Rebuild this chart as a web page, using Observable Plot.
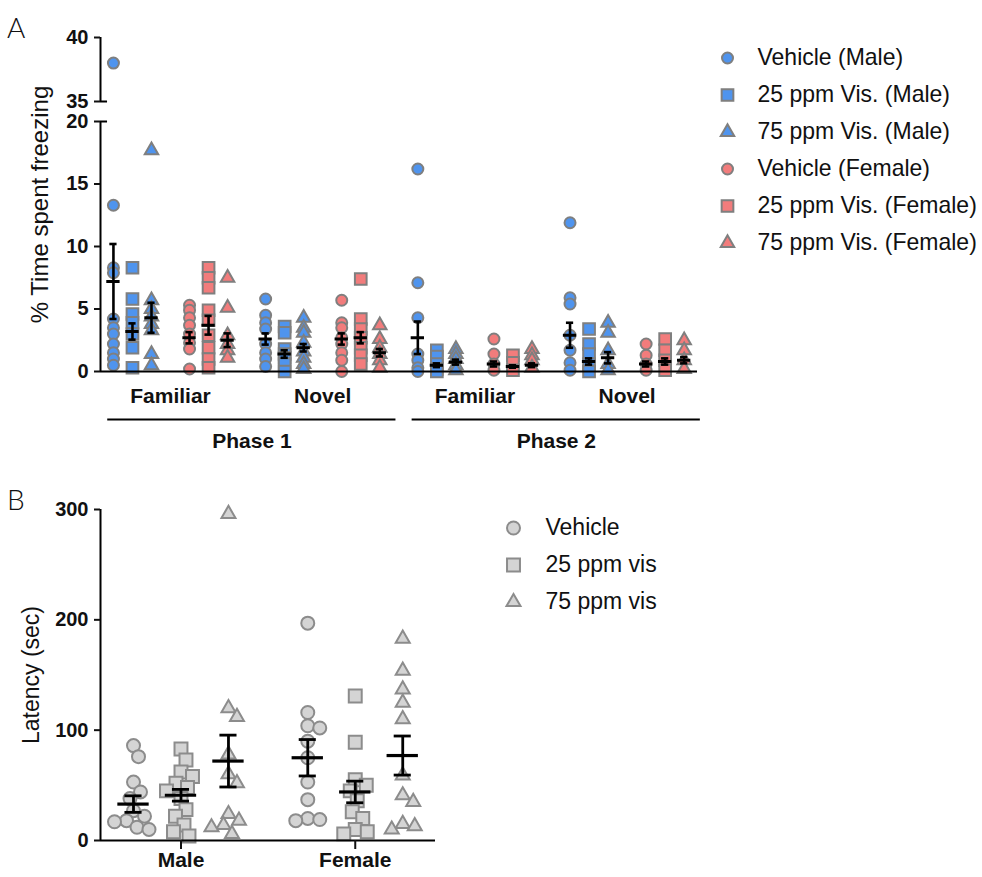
<!DOCTYPE html>
<html><head><meta charset="utf-8">
<script src="https://cdn.jsdelivr.net/npm/d3@7"></script>
<script src="https://cdn.jsdelivr.net/npm/@observablehq/plot@0.6"></script>
<style>
body{margin:0;background:#fff;font-family:"Liberation Sans",Arial,sans-serif;}
#page{position:relative;width:982px;height:877px;overflow:hidden;background:#fff;}
.abs{position:absolute;}
.letter{font-family:Lato,"DejaVu Sans",sans-serif;font-weight:300;font-size:28px;line-height:28px;color:#111;}
</style></head><body>
<div id="page">
 <div class="abs letter" style="left:7px;top:13px">A</div>
 <div class="abs letter" style="left:7px;top:485px">B</div>
 <div id="a" class="abs" style="left:0;top:0"></div>
 <div id="alegend" class="abs" style="left:700px;top:38px"></div>
 <div id="b" class="abs" style="left:0;top:460px"></div>
 <div id="blegend" class="abs" style="left:490px;top:508px"></div>
</div>
<script>
// ---------------- Panel A data: % time spent freezing ----------------
const phases = ["Phase 1", "Phase 2"];
const contexts = ["Familiar", "Novel"];
const groupsA = ["Vehicle (Male)", "25 ppm Vis. (Male)", "75 ppm Vis. (Male)",
                 "Vehicle (Female)", "25 ppm Vis. (Female)", "75 ppm Vis. (Female)"];
const yTicksA = [0, 5, 10, 15, 20, 35, 40];
const yBreakA = [20, 35];   // axis break between these values

// each cluster: [VehM, 25M, 75M, VehF, 25F, 75F]
const p1FamiliarPts = [
  [38.0, 13.3, 8.3, 7.9, 4.2, 3.5, 3.0, 2.2, 1.5, 1.0, 0.5],
  [8.3, 5.8, 4.6, 3.9, 3.0, 1.9, 0.3],
  [17.7, 5.7, 5.0, 4.4, 3.8, 3.3, 1.4, 0.5],
  [5.3, 4.9, 4.3, 3.7, 3.0, 2.3, 1.8, 0.2],
  [8.3, 7.5, 6.7, 4.9, 4.1, 2.9, 1.9, 1.0, 0.3],
  [7.5, 5.1, 2.9, 2.2, 1.7, 1.1]
];
const p1FamiliarMean = [7.2, 3.2, 4.3, 2.7, 3.7, 2.5];
const p1FamiliarSem  = [3.0, 0.65, 1.2, 0.45, 0.75, 0.55];

const p1NovelPts = [
  [5.8, 4.5, 3.9, 3.4, 2.2, 1.5, 1.0, 0.4],
  [3.6, 3.1, 1.8, 1.4, 1.1, 0.6, 0.0],
  [4.3, 3.5, 3.1, 2.3, 1.6, 1.1, 0.6, 0.2],
  [5.7, 3.9, 3.5, 2.7, 2.2, 1.5, 0.9, 0.0],
  [7.4, 4.2, 3.4, 2.7, 1.9, 1.3, 0.6],
  [3.7, 2.6, 1.9, 1.4, 0.9, 0.3]
];
const p1NovelMean = [2.6, 1.4, 1.9, 2.6, 2.7, 1.5];
const p1NovelSem  = [0.45, 0.3, 0.3, 0.45, 0.45, 0.3];

const p2FamiliarPts = [
  [16.2, 7.1, 4.3, 1.4, 0.9, 0.3, 0.0],
  [1.7, 1.2, 0.6, 0.2, 0.0],
  [1.8, 1.4, 1.0, 0.5, 0.1],
  [2.6, 1.4, 0.6, 0.1],
  [1.3, 0.7, 0.1],
  [1.8, 1.3, 0.9, 0.3]
];
const p2FamiliarMean = [2.7, 0.5, 0.75, 0.6, 0.4, 0.5];
const p2FamiliarSem  = [1.3, 0.15, 0.2, 0.2, 0.1, 0.15];

const p2NovelPts = [
  [11.9, 5.9, 5.4, 2.9, 1.7, 0.7, 0.1],
  [3.4, 2.2, 1.4, 0.6, 0.0],
  [3.9, 3.1, 1.7, 0.6, 0.1],
  [2.2, 1.3, 0.6, 0.1],
  [2.6, 1.7, 0.9, 0.1],
  [2.5, 1.7, 0.9, 0.2]
];
const p2NovelMean = [2.9, 0.8, 1.1, 0.6, 0.8, 0.9];
const p2NovelSem  = [1.0, 0.25, 0.45, 0.2, 0.25, 0.25];

// ---------------- Panel B data: latency (sec) ----------------
const sexes = ["Male", "Female"];
const treatments = ["Vehicle", "25 ppm vis", "75 ppm vis"];
const yTicksB = [0, 100, 200, 300];
const maleVehicle   = [86, 76, 53, 44, 38, 27, 22, 18, 17, 12, 10];
const male25        = [83, 73, 62, 58, 52, 48, 45, 38, 28, 22, 14, 8, 4];
const male75        = [296, 120, 112, 78, 60, 52, 24, 18, 14, 12, 6];
const femaleVehicle = [197, 116, 104, 102, 90, 75, 53, 37, 20, 19, 18];
const female25      = [131, 89, 55, 50, 45, 36, 26, 20, 10, 8, 6];
const female75      = [183, 154, 137, 125, 110, 59, 41, 35, 15, 13, 10];
const maleMean   = [33, 41, 72];
const maleSem    = [7.5, 5.3, 23.5];
const femaleMean = [75, 44, 77];
const femaleSem  = [16.5, 9.8, 17.7];

// ---------------- styles ----------------
const BLUE = "#4f94ee", RED = "#f27c7c", EDGE = "#7f7f7f";
const GREYFILL = "#d4d4d4", GREYEDGE = "#8c8c8c";
const FONT = "'Liberation Sans', Arial, sans-serif";
const symbolOfA = ["circle", "square", "triangle", "circle", "square", "triangle"];
const fillOfA = [BLUE, BLUE, BLUE, RED, RED, RED];
const rA = {circle: 5.5, square: 6.6, triangle: 5.0};
const rB = {circle: 6.5, square: 7.3, triangle: 5.2};
const shapesB = ["circle", "square", "triangle"];

// broken axis: gap of GAP units between break values, upper segment slightly stretched
const GAP = 1.6, UPPER = 1.024;
const brk = v => v <= yBreakA[0] ? v
  : v >= yBreakA[1] ? yBreakA[0] + GAP + (v - yBreakA[1]) * UPPER
  : yBreakA[0] + (v - yBreakA[0]) * GAP / (yBreakA[1] - yBreakA[0]);
const yTopA = brk(d3.max(yTicksA));
const tickPosA = yTicksA.map(brk);

// ---------------- build Panel A ----------------
const clusterPts  = [p1FamiliarPts, p1NovelPts, p2FamiliarPts, p2NovelPts];
const clusterMean = [p1FamiliarMean, p1NovelMean, p2FamiliarMean, p2NovelMean];
const clusterSem  = [p1FamiliarSem, p1NovelSem, p2FamiliarSem, p2NovelSem];
const slotA = (c, g) => c * 8 + g + (g >= 3 ? 1 : 0);
const ptsA = [], statsA = [];
clusterPts.forEach((groups, c) => groups.forEach((vals, g) => {
  const x = slotA(c, g);
  vals.forEach(v => ptsA.push({x, v, group: groupsA[g], shape: symbolOfA[g]}));
  statsA.push({x, mean: clusterMean[c][g], sem: clusterSem[c][g]});
}));
const ctxLabels = d3.range(4).map(c => ({x: c * 8 + 3, label: contexts[c % 2]}));
const phaseSpans = phases.map((p, i) => ({label: p, start: i * 16, end: i * 16 + 14}));
const xMinA = -0.68, xMaxA = 30.7;

const plotA = Plot.plot({
  width: 720, height: 460,
  marginLeft: 100, marginRight: 23, marginTop: 37, marginBottom: 89,
  style: {fontFamily: FONT, color: "#111", background: "transparent", overflow: "visible"},
  x: {domain: [xMinA, xMaxA], axis: null},
  y: {domain: [0, yTopA], axis: null},
  symbol: {domain: groupsA, range: symbolOfA},
  color: {domain: groupsA, range: fillOfA},
  marks: [
    ...["circle", "square", "triangle"].map(s =>
      Plot.dot(ptsA.filter(d => d.shape === s),
        {x: "x", y: d => brk(d.v), symbol: "group", fill: "group", stroke: EDGE, strokeWidth: 2, r: rA[s]})),
    // mean & SEM
    Plot.ruleX(statsA, {x: "x", y1: d => brk(d.mean - d.sem), y2: d => brk(d.mean + d.sem), stroke: "#000", strokeWidth: 2.6}),
    Plot.ruleY(statsA, {y: d => brk(d.mean + d.sem), x1: d => d.x - 0.19, x2: d => d.x + 0.19, stroke: "#000", strokeWidth: 2.6}),
    Plot.ruleY(statsA, {y: d => brk(d.mean - d.sem), x1: d => d.x - 0.19, x2: d => d.x + 0.19, stroke: "#000", strokeWidth: 2.6}),
    Plot.ruleY(statsA, {y: d => brk(d.mean), x1: d => d.x - 0.35, x2: d => d.x + 0.35, stroke: "#000", strokeWidth: 3}),
    // axes
    Plot.ruleY([0], {stroke: "#000", strokeWidth: 2}),
    Plot.ruleX([[0, yBreakA[0]], [yBreakA[1], d3.max(yTicksA)]], {x: xMinA, y1: d => brk(d[0]), y2: d => brk(d[1]), stroke: "#000", strokeWidth: 2}),
    Plot.ruleY(yBreakA, {y: d => brk(d), x1: xMinA, x2: xMinA + 0.37, stroke: "#000", strokeWidth: 2}),
    Plot.axisY({ticks: tickPosA, tickSize: 6, tickPadding: 6, strokeWidth: 2, fontSize: 20,
                fontWeight: "bold", label: null,
                tickFormat: d => String(yTicksA[d3.minIndex(tickPosA, t => Math.abs(t - d))])}),
    Plot.text(ctxLabels, {x: "x", y: 0, text: "label", dy: 25, fontSize: 21, fontWeight: "bold"}),
    Plot.ruleY(phaseSpans, {y: 0, x1: d => d.start - 0.3, x2: d => d.end + 0.85, dy: 48, stroke: "#000", strokeWidth: 2}),
    Plot.text(phaseSpans, {x: d => (d.start + d.end) / 2 + 0.28, y: 0, text: "label", dy: 70, fontSize: 21, fontWeight: "bold"}),
    Plot.text(["% Time spent freezing"], {frameAnchor: "left", text: d => d, rotate: -90, dx: -60, dy: 0,
                textAnchor: "middle", fontSize: 24})
  ]
});
document.getElementById("a").appendChild(plotA);

// legend A
const legendA = Plot.plot({
  width: 282, height: 224.4, margin: 0,
  style: {fontFamily: FONT, color: "#111", background: "transparent", overflow: "visible"},
  x: {axis: null}, y: {axis: null, domain: groupsA, type: "band", padding: 0},
  symbol: {domain: groupsA, range: symbolOfA},
  color: {domain: groupsA, range: fillOfA},
  marks: [
    ...["circle", "square", "triangle"].map(s =>
      Plot.dot(groupsA.filter((g, i) => symbolOfA[i] === s),
        {y: d => d, symbol: d => d, fill: d => d, frameAnchor: "left", dx: 27, stroke: EDGE, strokeWidth: 2, r: rA[s]})),
    Plot.text(groupsA, {y: d => d, text: d => d, frameAnchor: "left", dx: 57, textAnchor: "start", fontSize: 23})
  ]
});
document.getElementById("alegend").appendChild(legendA);

// ---------------- build Panel B ----------------
const widthB = 460, heightB = 417, mlB = 100, mrB = 25, mtB = 49, mbB = 37;
const xMinB = -0.695, xMaxB = 6.36, SEX_STEP = 3.67;
const pxPerValue = (heightB - mtB - mbB) / 300;
const pxPerSlot = (widthB - mlB - mrB) / (xMaxB - xMinB);

function swarm(values, minDist) {
  const order = d3.range(values.length).sort((a, b) => d3.descending(values[a], values[b]));
  const placed = [], out = new Array(values.length).fill(0);
  for (const i of order) {
    const y = values[i] * pxPerValue;
    for (let k = 0; k < 400; k++) {
      const cand = k === 0 ? 0 : (k % 2 ? 1 : -1) * Math.ceil(k / 2) * 0.5;
      if (placed.every(p => Math.hypot(p.x - cand, p.y - y) >= minDist)) {
        out[i] = cand; placed.push({x: cand, y}); break;
      }
    }
  }
  return out;
}

const latencyPts = [[maleVehicle, male25, male75], [femaleVehicle, female25, female75]];
const latencyMean = [maleMean, femaleMean];
const latencySem = [maleSem, femaleSem];
const ptsB = [], statsB = [];
latencyPts.forEach((groups, s) => groups.forEach((vals, g) => {
  const x = s * SEX_STEP + g;
  const offs = swarm(vals, 12);
  vals.forEach((v, i) => ptsB.push({x: x + offs[i] / pxPerSlot, v, treatment: treatments[g], shape: shapesB[g]}));
  statsB.push({x, mean: latencyMean[s][g], sem: latencySem[s][g]});
}));
const sexTicks = sexes.map((s, i) => i * SEX_STEP + 1);

const plotB = Plot.plot({
  width: widthB, height: heightB,
  marginLeft: mlB, marginRight: mrB, marginTop: mtB, marginBottom: mbB,
  style: {fontFamily: FONT, color: "#111", background: "transparent", overflow: "visible"},
  x: {domain: [xMinB, xMaxB], axis: null},
  y: {domain: [0, 300], axis: null},
  symbol: {domain: treatments, range: shapesB},
  marks: [
    ...shapesB.map(s =>
      Plot.dot(ptsB.filter(d => d.shape === s),
        {x: "x", y: "v", symbol: "treatment", fill: GREYFILL, stroke: GREYEDGE, strokeWidth: 2, r: rB[s]})),
    Plot.ruleX(statsB, {x: "x", y1: d => d.mean - d.sem, y2: d => d.mean + d.sem, stroke: "#000", strokeWidth: 2.8}),
    Plot.ruleY(statsB, {y: d => d.mean + d.sem, x1: d => d.x - 0.18, x2: d => d.x + 0.18, stroke: "#000", strokeWidth: 2.8}),
    Plot.ruleY(statsB, {y: d => d.mean - d.sem, x1: d => d.x - 0.18, x2: d => d.x + 0.18, stroke: "#000", strokeWidth: 2.8}),
    Plot.ruleY(statsB, {y: "mean", x1: d => d.x - 0.33, x2: d => d.x + 0.33, stroke: "#000", strokeWidth: 3.2}),
    Plot.ruleY([0], {stroke: "#000", strokeWidth: 2}),
    Plot.ruleX([[0, 300]], {x: xMinB, y1: d => d[0], y2: d => d[1], stroke: "#000", strokeWidth: 2}),
    Plot.axisY({ticks: yTicksB, tickSize: 6, tickPadding: 6, strokeWidth: 2, fontSize: 20,
                fontWeight: "bold", label: null, tickFormat: d => String(d)}),
    Plot.axisX({ticks: sexTicks, tickSize: 9, tickPadding: 3, strokeWidth: 2, fontSize: 21,
                fontWeight: "bold", label: null,
                tickFormat: d => sexes[Math.round((d - 1) / SEX_STEP)]}),
    Plot.text(["Latency (sec)"], {frameAnchor: "left", text: d => d, rotate: -90, dx: -69,
                textAnchor: "middle", fontSize: 23})
  ]
});
document.getElementById("b").appendChild(plotB);

// legend B
const legendB = Plot.plot({
  width: 200, height: 112.5, margin: 0,
  style: {fontFamily: FONT, color: "#111", background: "transparent", overflow: "visible"},
  x: {axis: null}, y: {axis: null, domain: treatments, type: "band", padding: 0},
  symbol: {domain: treatments, range: shapesB},
  marks: [
    ...shapesB.map((s, i) =>
      Plot.dot([treatments[i]], {y: d => d, symbol: d => d, frameAnchor: "left", dx: 23,
        fill: GREYFILL, stroke: GREYEDGE, strokeWidth: 2, r: rB[s]})),
    Plot.text(treatments, {y: d => d, text: d => d, frameAnchor: "left", dx: 55, textAnchor: "start", fontSize: 23})
  ]
});
document.getElementById("blegend").appendChild(legendB);
</script>
</body></html>
